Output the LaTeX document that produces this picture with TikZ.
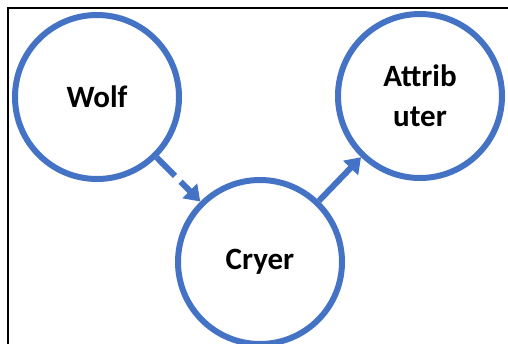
\documentclass[tikz,border=0pt]{standalone}
\usepackage{fontspec}
\setmainfont{Carlito}
\usepackage{tikz}
\usetikzlibrary{shapes,arrows.meta}

\definecolor{roleblue}{RGB}{68,114,196}

\begin{document}
\begin{tikzpicture}[x=1pt,y=1pt,yscale=-1,xscale=1,
    role/.style={circle,draw=roleblue,line width=6pt,minimum size=164pt,inner sep=0pt,
      align=center,font=\fontsize{31}{40}\selectfont\bfseries},
    link/.style={draw=roleblue,line width=6pt,-{Triangle[length=15pt,width=20pt]}}]
    \useasboundingbox (0,0) rectangle (508,343);

    %Frame
    \draw [line width=1.5pt] (8,8) rectangle (530,370);

    % Role Nodes
    \node [role] (wolf) at (97,97) {Wolf};
    \node [role] (cryer) at (260,262) {Cryer};
    \node [role] (attrib) at (420,96) {Attrib\\uter};

    % Links
    \draw [link,dash pattern={on 26pt off 8pt}] (wolf) -- (cryer);
    \draw [link] (cryer) -- (attrib);

\end{tikzpicture}
\end{document}
